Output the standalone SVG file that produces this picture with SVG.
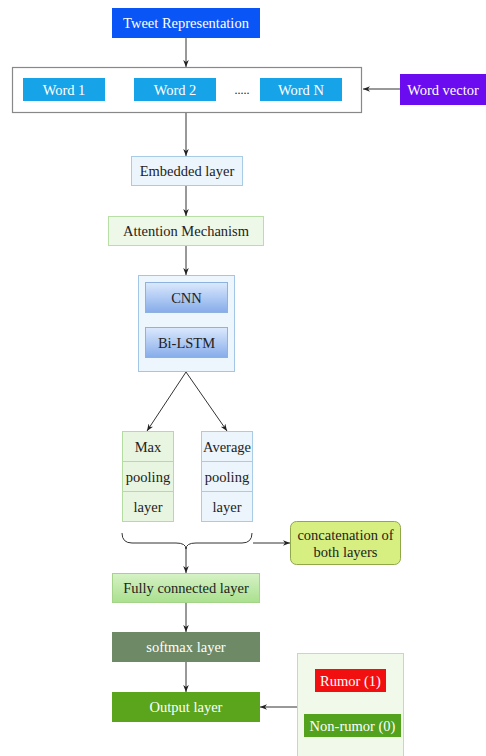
<svg xmlns="http://www.w3.org/2000/svg" width="486" height="756" viewBox="0 0 486 756">
<defs>
<marker id="ah" viewBox="0 0 10 10" refX="10" refY="5" markerWidth="7" markerHeight="7" orient="auto" markerUnits="userSpaceOnUse">
<path d="M0,1 L10,5 L0,9 L3,5 Z" fill="#222"/>
</marker>
<linearGradient id="gBlue" x1="0" y1="0" x2="0" y2="1">
<stop offset="0" stop-color="#dbe9fc"/>
<stop offset="1" stop-color="#86acea"/>
</linearGradient>
<linearGradient id="gGreen" x1="0" y1="0" x2="0" y2="1">
<stop offset="0" stop-color="#d6f2c6"/>
<stop offset="1" stop-color="#a9e08e"/>
</linearGradient>
<style>
text{font-family:"Liberation Serif","Times New Roman",serif;font-size:14.5px;text-anchor:middle;dominant-baseline:central;fill:#222}
.w{fill:#fff}
.con{fill:none;stroke:#333;stroke-width:1}
</style>
</defs>
<rect width="486" height="756" fill="#fff"/>

<g id="connectors">
<line class="con" x1="186" y1="38" x2="186" y2="67" marker-end="url(#ah)"/>
<line class="con" x1="400" y1="89" x2="363" y2="89" marker-end="url(#ah)"/>
<line class="con" x1="186" y1="112" x2="186" y2="156" marker-end="url(#ah)"/>
<line class="con" x1="186" y1="186" x2="186" y2="216" marker-end="url(#ah)"/>
<line class="con" x1="186" y1="246" x2="186" y2="275" marker-end="url(#ah)"/>
<line class="con" x1="186" y1="372" x2="147" y2="431" marker-end="url(#ah)"/>
<line class="con" x1="186" y1="372" x2="227" y2="431" marker-end="url(#ah)"/>
<path class="con" d="M122,533 Q122,543 132,543 L176,543 Q186,543 186,549 Q186,543 196,543 L242,543 Q252,543 252,533"/>
<line class="con" x1="186" y1="547" x2="186" y2="573" marker-end="url(#ah)"/>
<line class="con" x1="253" y1="543" x2="290" y2="543" marker-end="url(#ah)"/>
<line class="con" x1="186" y1="603" x2="186" y2="632" marker-end="url(#ah)"/>
<line class="con" x1="186" y1="662" x2="186" y2="692" marker-end="url(#ah)"/>
<line class="con" x1="297" y1="707" x2="260" y2="707" marker-end="url(#ah)"/>
</g>

<g id="tweet">
<rect x="112" y="8" width="148" height="30" fill="#0a55f5"/>
<text class="w" x="186" y="23">Tweet Representation</text>
</g>

<g id="words">
<rect x="12.5" y="67.5" width="349" height="45" fill="#fff" stroke="#888" stroke-width="1.2"/>
<g id="word1"><rect x="23" y="78" width="82" height="23" fill="#16a3e8"/><text class="w" x="64" y="89.5">Word 1</text></g>
<g id="word2"><rect x="134" y="78" width="82" height="23" fill="#16a3e8"/><text class="w" x="175" y="89.5">Word 2</text></g>
<text x="242" y="90" style="font-size:12px">.....</text>
<g id="wordN"><rect x="260" y="78" width="82" height="23" fill="#16a3e8"/><text class="w" x="301" y="89.5">Word N</text></g>
</g>

<g id="wordvector">
<rect x="400" y="74" width="86" height="31" fill="#6a0bf0"/>
<text class="w" x="443" y="89.5">Word vector</text>
</g>

<g id="embedded">
<rect x="131.5" y="156.5" width="111" height="29" fill="#edf5fc" stroke="#a8cbe6"/>
<text x="187" y="171">Embedded layer</text>
</g>

<g id="attention">
<rect x="108.5" y="216.5" width="155" height="29" fill="#eef8e9" stroke="#b8e0a6"/>
<text x="186" y="231">Attention Mechanism</text>
</g>

<g id="cnnlstm">
<rect x="138.5" y="275.5" width="96" height="96" fill="#eef6fd" stroke="#a3c6e6"/>
<g id="cnn"><rect x="145.5" y="282.5" width="82" height="30" fill="url(#gBlue)" stroke="#8fb1de"/><text x="186.5" y="297.5">CNN</text></g>
<g id="bilstm"><rect x="145.5" y="327.5" width="82" height="30" fill="url(#gBlue)" stroke="#8fb1de"/><text x="186.5" y="342.5">Bi-LSTM</text></g>
</g>

<g id="maxpool">
<rect x="122.5" y="431.5" width="51" height="30" fill="#e8f5e0" stroke="#b5dca0"/>
<rect x="122.5" y="461.5" width="51" height="30" fill="#e8f5e0" stroke="#b5dca0"/>
<rect x="122.5" y="491.5" width="51" height="30" fill="#e8f5e0" stroke="#b5dca0"/>
<text x="148" y="446.5">Max</text>
<text x="148" y="476.5">pooling</text>
<text x="148" y="506.5">layer</text>
</g>

<g id="avgpool">
<rect x="201.5" y="431.5" width="51" height="30" fill="#ecf5fc" stroke="#a8cbe6"/>
<rect x="201.5" y="461.5" width="51" height="30" fill="#ecf5fc" stroke="#a8cbe6"/>
<rect x="201.5" y="491.5" width="51" height="30" fill="#ecf5fc" stroke="#a8cbe6"/>
<text x="227" y="446.5">Average</text>
<text x="227" y="476.5">pooling</text>
<text x="227" y="506.5">layer</text>
</g>

<g id="concat">
<rect x="290.5" y="521.5" width="110" height="43" rx="6" fill="#d6ef80" stroke="#8fa84a"/>
<text x="345.5" y="535">concatenation of</text>
<text x="345.5" y="552">both layers</text>
</g>

<g id="fully">
<rect x="112.5" y="573.5" width="147" height="29" fill="url(#gGreen)" stroke="#a4d48a"/>
<text x="186" y="588">Fully connected layer</text>
</g>

<g id="softmax">
<rect x="112" y="632" width="148" height="30" fill="#6d8965"/>
<text class="w" x="186" y="647">softmax layer</text>
</g>

<g id="output">
<rect x="112" y="692" width="148" height="30" fill="#5aa51c"/>
<text class="w" x="186" y="707">Output layer</text>
</g>

<g id="classes">
<rect x="297.5" y="653.5" width="106" height="110" fill="#f1faea" stroke="#bde2a8"/>
<g id="rumor"><rect x="315" y="669" width="71" height="23" fill="#f20f0f"/><text class="w" x="350.5" y="680.5">Rumor (1)</text></g>
<g id="nonrumor"><rect x="304" y="714" width="97" height="23" fill="#52a21e"/><text class="w" x="352.5" y="725.5">Non-rumor (0)</text></g>
</g>
</svg>
